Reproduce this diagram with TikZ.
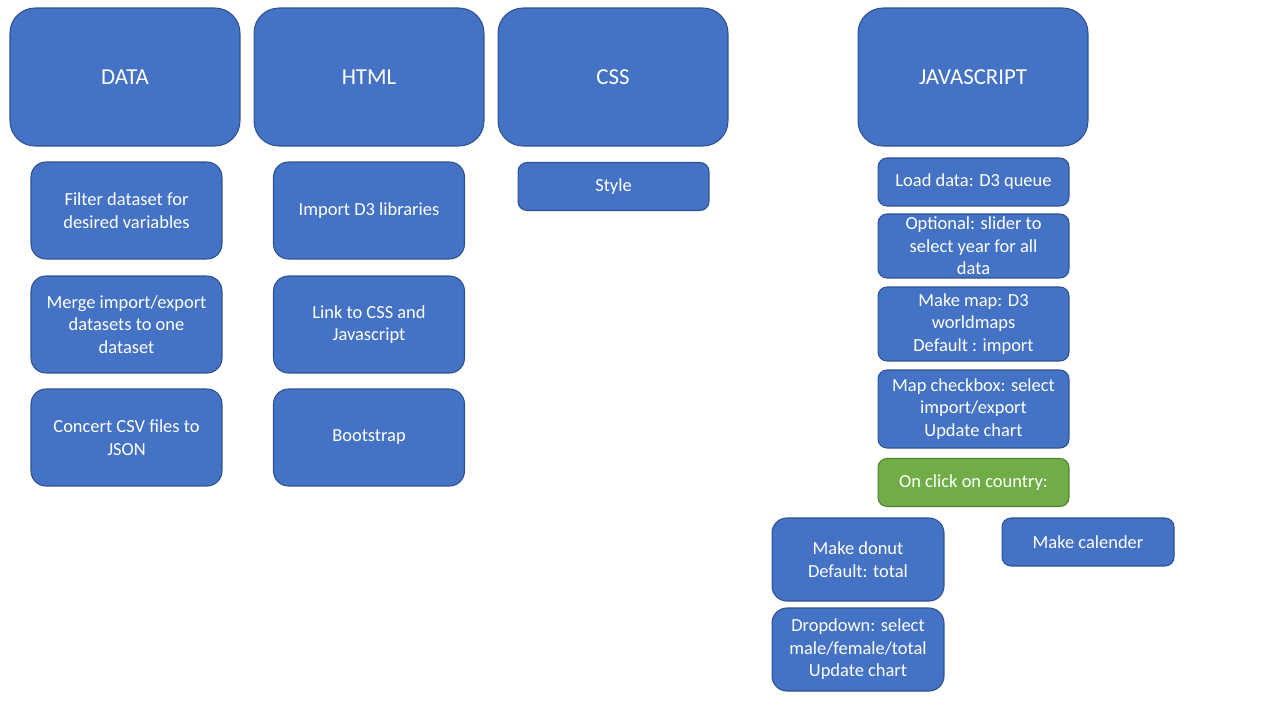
\documentclass[tikz,border=0pt]{standalone}
\usepackage{fontspec}
\setmainfont{Carlito}
\usepackage{xcolor}
\usetikzlibrary{positioning}
\definecolor{boxblue}{HTML}{4472C4}
\definecolor{boxline}{HTML}{2F528F}
\definecolor{boxgreen}{HTML}{70AD47}
\definecolor{greenline}{HTML}{507E32}
\tikzset{
    hdbox/.style={draw=boxline, fill=boxblue, text=white, line width=0.6pt, rounded corners=0.5cm,
        minimum width=4.6cm, minimum height=2.76cm, inner sep=0pt, font=\fontsize{13}{15}\selectfont},
    stbox/.style={draw=boxline, fill=boxblue, text=white, line width=0.6pt, rounded corners=0.3cm,
        minimum width=3.82cm, minimum height=1.94cm, inner sep=0pt, align=center,
        font=\fontsize{10.5}{12.8}\selectfont},
    jsbox/.style={stbox, rounded corners=0.18cm, minimum height=0.96cm}
}
\begin{document}
\begin{tikzpicture}[x=0.02cm, y=-0.02cm]
    \useasboundingbox (0,0) rectangle (1280,720);
    % headers
    \node[hdbox] (data) at (125,77) {DATA};
    \node[hdbox] (html) at (369,77) {HTML};
    \node[hdbox] (css) at (613,77) {CSS};
    \node[hdbox] (js) at (973,77) {JAVASCRIPT};
    % data steps
    \node[stbox] (filter) at (126.5,210.5) {Filter dataset for\\desired variables};
    \node[stbox] (merge) at (126.5,324.5) {Merge import/export\\datasets to one\\dataset};
    \node[stbox] (convert) at (126.5,437.5) {Concert CSV files to\\JSON};
    % html steps
    \node[stbox] (dlib) at (369,210.5) {Import D3 libraries};
    \node[stbox] (link) at (369,324.5) {Link to CSS and\\Javascript};
    \node[stbox] (boot) at (369,437.5) {Bootstrap};
    % css
    \node[jsbox] (style) at (613.5,186.5) {Style};
    % javascript steps
    \node[jsbox] (load) at (973.5,182) {Load data: D3 queue};
    \node[jsbox, minimum height=1.28cm] (slider) at (973.5,246) {Optional: slider to\\select year for all\\data};
    \node[jsbox, minimum height=1.48cm] (map) at (973.5,324) {Make map: D3\\worldmaps\\Default : import};
    \node[jsbox, minimum height=1.56cm] (check) at (973.5,409) {Map checkbox: select\\import/export\\Update chart};
    \node[jsbox, draw=greenline, fill=boxgreen] (click) at (973.5,482.5) {On click on country:};
    \node[stbox, minimum width=3.44cm, minimum height=1.66cm] (donut) at (858,559.5) {Make donut\\Default: total};
    \node[stbox, minimum width=3.44cm, minimum height=1.66cm] (drop) at (858,649.5) {Dropdown: select\\male/female/total\\Update chart};
    \node[jsbox, minimum width=3.44cm] (cal) at (1088,542) {Make calender};
\end{tikzpicture}
\end{document}
